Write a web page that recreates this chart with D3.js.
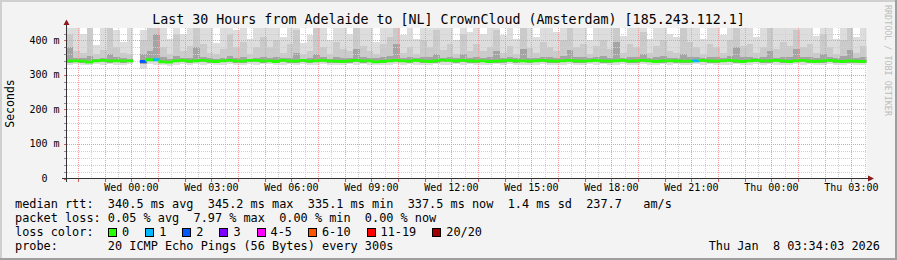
<!DOCTYPE html>
<html>
<head>
<meta charset="utf-8">
<script src="https://cdn.jsdelivr.net/npm/d3@7"></script>
<style>
  html, body { margin: 0; padding: 0; background: #f3f3f3; }
  svg { display: block; font-family: "DejaVu Sans Mono", monospace; }
  text { white-space: pre; }
</style>
</head>
<body>
<div id="chart"></div>
<script>
// 15 minute samples over 30 hours (ms)
const maxRtt = [
  460,445,418,450,388,440,455,430,395,440,
  null,430,450,445,440,405,445,420,440,450,
  445,440,392,445,450,430,440,405,445,450,
  440,445,410,445,450,392,415,450,440,402,
  445,440,420,450,445,440,395,445,440,450,
  415,445,405,445,440,450,440,445,400,450,
  425,445,420,440,450,415,445,405,450,440,
  410,445,440,425,445,450,440,445,400,440,
  445,440,450,412,445,440,450,405,445,440,
  420,410,450,445,440,405,445,440,415,445,
  450,440,445,410,440,450,440,445,440,450,
  440,445,412,445,440,405,445,450,410,440
];
const hiMid = [
  420,370,365,440,360,372,445,380,365,360,
  null,400,440,440,380,360,420,370,385,440,
  390,365,360,375,420,380,395,362,380,410,
  380,400,365,390,430,360,370,440,380,362,
  395,375,370,440,385,370,362,390,410,440,
  365,380,362,400,380,430,372,390,362,420,
  370,390,368,380,430,365,385,362,440,378,
  365,395,380,370,400,440,380,390,362,385,
  400,375,440,365,390,380,425,365,385,400,
  370,365,440,395,380,362,390,380,365,400,
  440,385,390,365,380,440,375,395,385,430,
  380,390,365,420,380,362,400,440,365,385
];
const hiDark = [
  380,350,348,355,347,350,360,352,348,347,
  null,360,370,420,352,345,355,350,350,380,
  352,348,347,350,355,350,352,347,350,352,
  350,352,348,350,365,347,350,360,352,347,
  352,350,350,375,352,350,348,352,355,390,
  350,352,348,352,352,360,350,352,348,360,
  350,352,350,352,368,349,352,348,375,350,
  349,352,352,350,355,372,352,352,348,352,
  355,350,395,350,352,352,362,349,352,355,
  350,350,362,352,352,348,352,352,350,355,
  380,352,352,349,352,370,350,352,352,375,
  352,352,350,360,352,348,355,372,350,352
];
const medianRtt = [
  341,341,340,337,341,342,341,341,341,341,
  null,339,344,344,338,337,341,342,340,341,
  342,341,339,341,342,341,340,342,342,341,
  341,339,342,341,340,342,340,341,342,341,
  340,339,341,342,341,341,338,339,341,342,
  341,340,342,341,339,341,343,342,341,342,
  341,340,341,339,340,341,342,341,341,340,
  341,342,341,340,341,342,341,340,341,342,
  341,340,341,342,340,341,342,341,339,341,
  341,341,340,340,341,342,341,340,341,342,
  341,339,341,342,341,341,342,341,339,341,
  342,340,339,341,342,341,339,341,340,339
];
const loDark = [
  336,337,336,334,337,337,336,337,336,337,
  null,333,339,339,335,334,337,337,336,337,
  337,336,335,337,337,336,336,337,337,336,
  337,335,337,336,336,337,336,337,337,336,
  336,335,336,337,336,337,334,335,337,337,
  337,336,337,336,335,336,338,337,336,337,
  336,336,337,335,336,336,337,336,337,336,
  337,337,336,336,337,337,336,336,337,337,
  336,336,337,337,336,336,337,337,335,336,
  337,336,336,336,337,337,336,336,337,337,
  336,335,337,337,336,336,337,336,335,337,
  337,336,335,336,337,336,335,336,336,335
];
const minRtt = [
  330,331,329,328,331,330,331,330,329,331,
  null,318,331,330,328,327,330,331,330,331,
  330,331,329,330,331,330,329,331,330,331,
  331,329,330,331,330,331,329,330,331,330,
  330,329,331,330,331,330,328,329,330,331,
  330,331,330,329,330,331,330,329,331,330,
  331,330,329,330,331,330,331,330,329,330,
  330,331,330,329,330,331,330,329,331,330,
  331,330,330,331,329,330,331,330,329,331,
  330,331,330,329,331,330,331,330,329,330,
  331,329,330,331,330,331,330,329,330,331,
  330,331,329,330,331,330,329,331,330,329
];
// lost pings out of 20 per sample
const lossCount = [
  0,0,0,0,0,0,0,0,0,0, 0,2,0,1,0,0,0,0,0,0,
  0,0,0,0,0,0,0,0,0,0, 0,0,0,0,0,0,0,0,0,0,
  0,0,0,0,0,0,0,0,0,0, 0,0,0,0,0,0,0,0,0,0,
  0,0,0,0,0,0,0,0,0,0, 0,0,0,0,0,0,0,0,0,0,
  0,0,0,0,0,0,0,0,0,0, 0,0,0,0,1,0,0,0,0,0,
  0,0,0,0,0,0,0,0,0,0, 0,0,0,0,0,0,0,0,0,0
];
const lossLabels = ["0", "1", "2", "3", "4-5", "6-10", "11-19", "20/20"];
const lossColors = ["#26ff00", "#00b8ff", "#0059ff", "#7e00ff", "#ff00ff", "#ff5500", "#ff0000", "#a10000"];

const yTicks = [0, 100, 200, 300, 400];
const legendLines = [
  "median rtt:  340.5 ms avg  345.2 ms max  335.1 ms min  337.5 ms now  1.4 ms sd  237.7   am/s",
  "packet loss: 0.05 % avg  7.97 % max  0.00 % min  0.00 % now",
  "loss color:",
  "probe:       20 ICMP Echo Pings (56 Bytes) every 300s"
];
const title = "Last 30 Hours from Adelaide to [NL] CrownCloud (Amsterdam) [185.243.112.1]";
const stamp = "Thu Jan  8 03:34:03 2026";

const W = 897, H = 260;
const charW = 7.14;
const endTime = new Date(2026, 0, 8, 3, 34, 3);
const startTime = new Date(endTime - 30 * 3600e3);
const step = 15 * 60e3;

const data = medianRtt.map((m, i) => ({
  t0: new Date(+startTime + i * step),
  t1: new Date(+startTime + (i + 1) * step),
  max: maxRtt[i], hiMid: hiMid[i], hiDark: hiDark[i],
  med: m, loDark: loDark[i], min: minRtt[i], loss: lossCount[i]
}));

const x = d3.scaleTime().domain([startTime, endTime]).range([66.5, 866.5]);
const y = d3.scaleLinear().domain([0, 436]).range([178.5, 28]);
const lossColor = d3.scaleThreshold().domain([1, 2, 3, 4, 6, 11, 20]).range(lossColors);

const svg = d3.select("#chart").append("svg").attr("width", W).attr("height", H);

// background and 3D frame
svg.append("rect").attr("width", W).attr("height", H).attr("fill", "#f3f3f3");
svg.append("path").attr("d", `M0,0H${W}V2H2V${H}H0Z`).attr("fill", "#cfcfcf");
svg.append("path").attr("d", `M${W},${H}H0V${H-2}H${W-2}V0H${W}Z`).attr("fill", "#9e9e9e");
svg.append("rect").attr("x", 66.5).attr("y", 28).attr("width", 800).attr("height", 150.5).attr("fill", "#fff");

svg.append("defs").append("clipPath").attr("id", "plot")
  .append("rect").attr("x", 66.5).attr("y", 28).attr("width", 800).attr("height", 150.5);

// minor grid
const grid = svg.append("g").attr("shape-rendering", "crispEdges");
const minorX = d3.timeMinute.every(30).range(startTime, endTime).filter(d => d.getMinutes() === 30);
const majorX = d3.timeHour.range(startTime, endTime);
const minorY = d3.range(20, 436, 20).filter(v => v % 100 !== 0);
const majorY = d3.range(100, 436, 100);

grid.selectAll(".mx").data(minorX).join("line")
  .attr("x1", d => Math.round(x(d)) + 0.5).attr("x2", d => Math.round(x(d)) + 0.5)
  .attr("y1", 28).attr("y2", 178)
  .attr("stroke", "#cfcfcf").attr("stroke-dasharray", "1,1");
grid.selectAll(".my").data(minorY).join("line")
  .attr("x1", 67).attr("x2", 867)
  .attr("y1", d => Math.round(y(d)) + 0.5).attr("y2", d => Math.round(y(d)) + 0.5)
  .attr("stroke", "#cfcfcf").attr("stroke-dasharray", "1,1");

// smoke
const smoke = svg.append("g").attr("clip-path", "url(#plot)").attr("shape-rendering", "crispEdges");
const layers = [["min", "max", "#dddddd"], ["loDark", "hiMid", "#cacaca"], ["loDark", "hiDark", "#a4a4a4"]];
layers.forEach(([lo, hi, col]) => {
  smoke.append("g").selectAll("rect").data(data.filter(d => d.med != null)).join("rect")
    .attr("x", d => x(d.t0))
    .attr("width", d => x(d.t1) - x(d.t0))
    .attr("y", d => y(d[hi]))
    .attr("height", d => y(d[lo]) - y(d[hi]))
    .attr("fill", col);
});

// grid on top of the smoke
grid.raise();
const mgrid = svg.append("g").attr("shape-rendering", "crispEdges");
mgrid.selectAll(".Mx").data(majorX).join("line")
  .attr("x1", d => Math.round(x(d)) + 0.5).attr("x2", d => Math.round(x(d)) + 0.5)
  .attr("y1", 28).attr("y2", 178)
  .attr("stroke", "#f29a9a").attr("stroke-dasharray", "1,1");
mgrid.selectAll(".My").data(majorY).join("line")
  .attr("x1", 67).attr("x2", 867)
  .attr("y1", d => Math.round(y(d)) + 0.5).attr("y2", d => Math.round(y(d)) + 0.5)
  .attr("stroke", "#f29a9a").attr("stroke-dasharray", "1,1");

// median, coloured by loss
const med = svg.append("g").attr("clip-path", "url(#plot)").attr("fill", "none").attr("stroke-width", 2.8);
data.forEach((d, i) => {
  if (d.med == null) return;
  const prev = i > 0 && data[i - 1].med != null ? y(data[i - 1].med) : y(d.med);
  med.append("path")
    .attr("d", `M${x(d.t0)},${prev}V${y(d.med)}H${x(d.t1)}`)
    .attr("stroke", lossColor(d.loss));
});

// axes
const ax = svg.append("g").attr("shape-rendering", "crispEdges");
ax.selectAll(".yt").data(d3.range(0, 436, 20)).join("line")
  .attr("x1", 63.5).attr("x2", 66.5)
  .attr("y1", d => Math.round(y(d)) + 0.5).attr("y2", d => Math.round(y(d)) + 0.5)
  .attr("stroke", d => d % 100 === 0 ? "#d06060" : "#909090");
ax.selectAll(".xt").data(majorX).join("line")
  .attr("x1", d => Math.round(x(d)) + 0.5).attr("x2", d => Math.round(x(d)) + 0.5)
  .attr("y1", 178.5).attr("y2", 181.5)
  .attr("stroke", "#d06060");
ax.append("line").attr("x1", 66.5).attr("x2", 66.5).attr("y1", 182).attr("y2", 24).attr("stroke", "#333");
ax.append("line").attr("x1", 62).attr("x2", 870).attr("y1", 178.5).attr("y2", 178.5).attr("stroke", "#333");
svg.append("path").attr("d", "M63.5,25L66.5,19.5L69.5,25Z").attr("fill", "#8b1a1a");
svg.append("path").attr("d", "M868,175.5L874,178.5L868,181.5Z").attr("fill", "#8b1a1a");

// tick labels
const lbl = svg.append("g").attr("font-size", "10px").attr("fill", "#000");
lbl.selectAll(".yl").data(yTicks).join("text")
  .attr("x", 47.5).attr("y", d => y(d) + 3.5)
  .attr("text-anchor", "end").text(d => d);
lbl.selectAll(".yu").data(yTicks.filter(d => d > 0)).join("text")
  .attr("x", 53.5).attr("y", d => y(d) + 3.5).text("m");
lbl.selectAll(".xl").data(d3.timeHour.every(3).range(startTime, endTime)).join("text")
  .attr("x", d => x(d)).attr("y", 191)
  .attr("text-anchor", "middle").text(d3.timeFormat("%a %H:%M"));

// titles
svg.append("text").attr("x", 448.5).attr("y", 23.5).attr("text-anchor", "middle")
  .attr("font-size", "13.3px").text(title);
svg.append("text").attr("transform", "translate(14,103.5) rotate(-90)").attr("text-anchor", "middle")
  .attr("font-size", "11.5px").text("Seconds");
svg.append("text").attr("transform", "translate(885,5) rotate(90)")
  .attr("font-size", "8.4px").attr("fill", "#bdbdbd").text("RRDTOOL / TOBI OETIKER");

// legend
const leg = svg.append("g").attr("font-size", "11.86px");
leg.selectAll(".ll").data(legendLines).join("text")
  .attr("x", 15).attr("y", (d, i) => 208 + i * 14)
  .attr("xml:space", "preserve").text(d => d);
// each legend entry: box, label, then two character gap
let bx = 108;
const boxX = lossLabels.map(l => { const p = bx; bx += 30 + charW * l.length; return p; });
const boxes = leg.selectAll(".lb").data(lossLabels).join("g")
  .attr("transform", (d, i) => `translate(${boxX[i]},228)`);
boxes.append("rect").attr("x", 0.5).attr("y", 0.5).attr("width", 8).attr("height", 8)
  .attr("fill", (d, i) => lossColors[i]).attr("stroke", "#000").attr("shape-rendering", "crispEdges");
boxes.append("text").attr("x", 14).attr("y", 8).text(d => d);
leg.append("text").attr("x", 880).attr("y", 250).attr("text-anchor", "end")
  .attr("xml:space", "preserve").text(stamp);
</script>
</body>
</html>
